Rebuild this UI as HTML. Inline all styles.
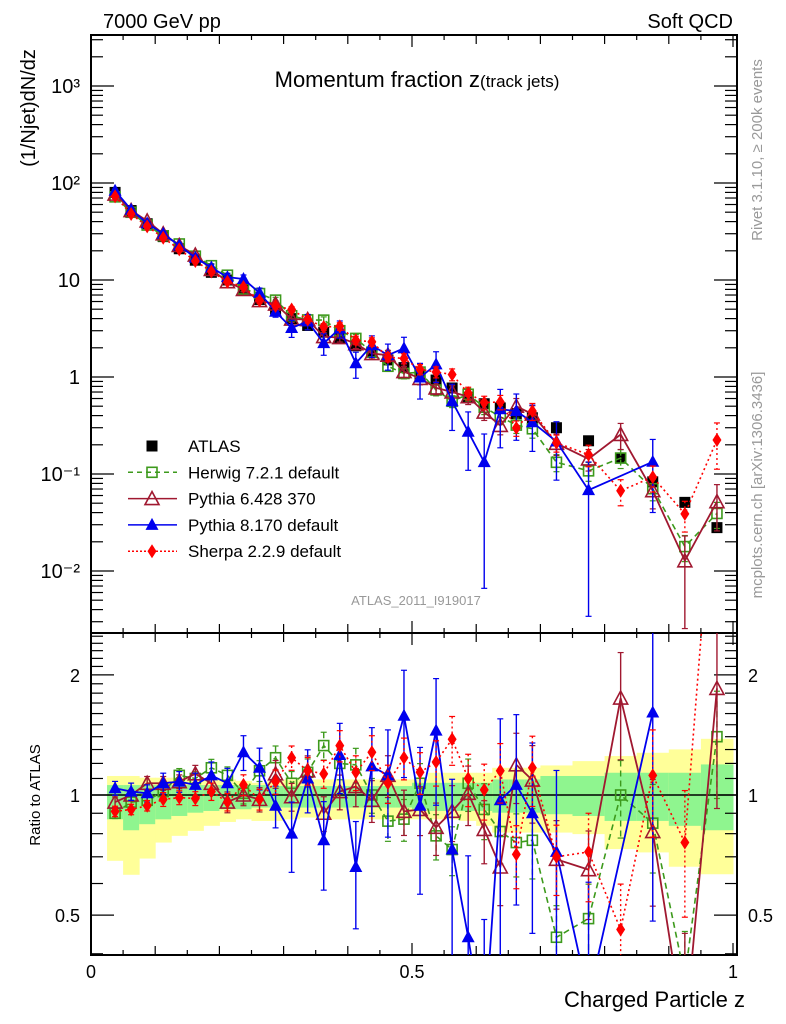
<!DOCTYPE html>
<html><head><meta charset="utf-8"><style>
html,body{margin:0;padding:0;background:#fff;overflow:hidden;width:786px;height:1024px;}
svg{display:block;font-family:"Liberation Sans",sans-serif;}
</style></head><body>
<svg id="c" width="786" height="1024" viewBox="0 0 786 1024" xmlns="http://www.w3.org/2000/svg">
<defs>
<clipPath id="cm"><rect x="91" y="35" width="646" height="598"/></clipPath>
<clipPath id="cr"><rect x="91" y="633" width="646" height="322"/></clipPath>
</defs>
<g id="bands" clip-path="url(#cr)"></g>
<g id="axes"></g>
<g id="mainG" clip-path="url(#cm)"></g>
<g id="ratioG" clip-path="url(#cr)"></g>
<text x="103" y="28" font-size="20">7000 GeV pp</text>
<text x="733" y="28" font-size="20" text-anchor="end">Soft QCD</text>
<text x="417" y="87" font-size="22" text-anchor="middle">Momentum fraction z<tspan font-size="17">(track jets)</tspan></text>
<text transform="translate(35,108) rotate(-90)" font-size="20" text-anchor="middle">(1/Njet)dN/dz</text>
<text transform="translate(40,795) rotate(-90)" font-size="15" text-anchor="middle">Ratio to ATLAS</text>
<text transform="translate(762,150) rotate(-90)" font-size="15" fill="#999" text-anchor="middle">Rivet 3.1.10, ≥ 200k events</text>
<text transform="translate(762,485) rotate(-90)" font-size="15" fill="#999" text-anchor="middle">mcplots.cern.ch [arXiv:1306.3436]</text>
<text x="416" y="605" font-size="13" fill="#999" text-anchor="middle">ATLAS_2011_I919017</text>
<text x="745" y="1007" font-size="22" text-anchor="end">Charged Particle z</text>
<g id="legend"></g>
</svg>
<script>
const binCenters=[0.0375,0.0625,0.0875,0.1125,0.1375,0.1625,0.1875,0.2125,0.2375,0.2625,0.2875,0.3125,0.3375,0.3625,0.3875,0.4125,0.4375,0.4625,0.4875,0.5125,0.5375,0.5625,0.5875,0.6125,0.6375,0.6625,0.6875,0.725,0.775,0.825,0.875,0.925,0.975];
const binWidths=[0.025,0.025,0.025,0.025,0.025,0.025,0.025,0.025,0.025,0.025,0.025,0.025,0.025,0.025,0.025,0.025,0.025,0.025,0.025,0.025,0.025,0.025,0.025,0.025,0.025,0.025,0.025,0.05,0.05,0.05,0.05,0.05,0.05];
const atlas=[80,52,38,28,21,16,12,10,8,6.3,5.0,4.0,3.4,2.9,2.5,2.1,1.8,1.5,1.25,1.05,0.93,0.77,0.62,0.53,0.48,0.42,0.38,0.30,0.22,0.146,0.083,0.051,0.028];
const herwigRatio=[0.90,0.96,0.97,1.02,1.12,1.10,1.17,1.12,1.01,1.15,1.24,1.07,1.14,1.33,1.20,1.19,1.0,0.86,0.87,1.07,0.79,0.73,1.07,0.92,0.81,0.76,0.77,0.44,0.49,1.0,0.85,0.35,1.40];
const py6Ratio=[0.96,1.0,1.07,1.07,1.08,1.13,1.07,0.96,1.0,0.975,1.13,0.99,1.15,0.90,1.02,1.05,0.97,1.12,0.91,0.92,0.83,0.91,1.01,0.82,0.66,1.19,1.09,0.69,0.65,1.75,0.81,0.25,1.85];
const py8Ratio=[1.04,1.02,1.01,1.07,1.08,1.06,1.12,1.07,1.28,1.17,0.94,0.80,1.10,0.77,1.26,0.66,1.18,1.12,1.58,0.94,1.45,0.73,0.44,0.25,0.97,1.06,0.90,0.72,0.31,null,1.61,null,null];
const sherpaRatio=[0.91,0.92,0.94,0.975,0.985,0.98,1.02,0.96,1.06,0.975,1.08,1.24,1.15,1.13,1.33,1.14,1.28,1.07,1.24,1.14,1.21,1.38,1.10,1.03,1.15,0.71,1.17,0.70,0.72,0.46,1.12,0.76,8.0];
const herwigErr=[0.03,0.03,0.03,0.04,0.04,0.04,0.05,0.05,0.06,0.06,0.07,0.07,0.08,0.08,0.09,0.1,0.1,0.11,0.12,0.12,0.13,0.14,0.15,0.16,0.17,0.18,0.2,0.2,0.22,0.22,0.25,0.3,0.3];
const py6Err=[0.03,0.03,0.04,0.04,0.04,0.05,0.05,0.06,0.06,0.07,0.08,0.08,0.09,0.1,0.1,0.11,0.12,0.12,0.13,0.14,0.15,0.16,0.17,0.18,0.2,0.2,0.22,0.25,0.25,0.3,0.35,0.8,0.5];
const py8Err=[0.04,0.05,0.05,0.06,0.06,0.07,0.08,0.09,0.1,0.12,0.12,0.2,0.18,0.25,0.2,0.3,0.25,0.3,0.3,0.4,0.35,0.5,0.6,0.95,0.6,0.5,0.5,0.6,0.95,0,0.7,0,0];
const sherpaErr=[0.03,0.03,0.03,0.04,0.04,0.04,0.05,0.05,0.06,0.06,0.07,0.07,0.08,0.08,0.09,0.1,0.1,0.11,0.12,0.12,0.13,0.14,0.15,0.16,0.17,0.18,0.2,0.2,0.25,0.3,0.3,0.35,0.5];
const yellowHi=[1.116,1.116,1.105,1.105,1.105,1.094,1.094,1.094,1.085,1.073,1.085,1.094,1.094,1.094,1.094,1.094,1.094,1.094,1.094,1.094,1.137,1.137,1.137,1.137,1.170,1.170,1.170,1.186,1.216,1.252,1.276,1.301,1.383];
const yellowLo=[0.684,0.631,0.693,0.760,0.790,0.813,0.837,0.856,0.869,0.861,0.861,0.869,0.878,0.869,0.869,0.869,0.869,0.869,0.869,0.869,0.869,0.869,0.861,0.837,0.805,0.805,0.805,0.805,0.798,0.732,0.718,0.661,0.633];
const greenHi=[1.059,1.059,1.059,1.059,1.059,1.059,1.059,1.059,1.059,1.059,1.053,1.053,1.053,1.053,1.053,1.053,1.053,1.053,1.053,1.073,1.073,1.073,1.073,1.073,1.094,1.094,1.094,1.116,1.116,1.137,1.137,1.137,1.193];
const greenLo=[0.869,0.816,0.845,0.869,0.886,0.903,0.912,0.921,0.921,0.930,0.930,0.930,0.930,0.930,0.930,0.930,0.930,0.930,0.930,0.921,0.912,0.912,0.912,0.912,0.903,0.903,0.903,0.895,0.886,0.861,0.861,0.837,0.816];
const mainTicks=["10⁻²","10⁻¹","1","10","10²","10³"];
const ratioTicks=[0.5,1,2];
const xTicks=[0,0.5,1];

const NS="http://www.w3.org/2000/svg";
const X0=91,XW=642,XR=737;
const MT=35,MB=633,RB=955;
function xS(v){return X0+v*XW;}
function yM(v){return 377-97*Math.log10(v);}
function yR(v){return 795-399*Math.log10(v);}
function mk(tag,attrs,parent){const e=document.createElementNS(NS,tag);for(const k in attrs)e.setAttribute(k,attrs[k]);parent.appendChild(e);return e;}
const axes=document.getElementById('axes');
const bands=document.getElementById('bands');
const mainG=document.getElementById('mainG');
const ratioG=document.getElementById('ratioG');
const legend=document.getElementById('legend');

binCenters.forEach((c,i)=>{
  const x1=xS(c-binWidths[i]/2),x2=xS(c+binWidths[i]/2);
  const y=mk('rect',{x:x1,y:yR(yellowHi[i]),width:x2-x1+0.5,height:yR(yellowLo[i])-yR(yellowHi[i]),fill:'#ffff99'},bands);
  
  
  const g=mk('rect',{x:x1,y:yR(greenHi[i]),width:x2-x1+0.5,height:yR(greenLo[i])-yR(greenHi[i]),fill:'#8ff58f'},bands);
  
  
});

const f1=mk('rect',{x:X0,y:MT,width:XR-X0,height:MB-MT,fill:'none',stroke:'#000','stroke-width':2},axes);


const f2=mk('rect',{x:X0,y:MB,width:XR-X0,height:RB-MB,fill:'none',stroke:'#000','stroke-width':2},axes);


const l1=mk('line',{x1:X0,x2:XR,y1:yR(1),y2:yR(1),stroke:'#000','stroke-width':1.5},axes);



for(let k=0;k<=20;k++){
  const v=k*0.05,x=xS(v);
  const len=(k%10===0)?12:(k%2===0?9:5);
  [MT,MB].forEach(yb=>{mk('line',{x1:x,x2:x,y1:yb,y2:yb+len,stroke:'#000','stroke-width':1.2},axes);});
  [MB,RB].forEach(yb=>{mk('line',{x1:x,x2:x,y1:yb,y2:yb-len,stroke:'#000','stroke-width':1.2},axes);});
}
xTicks.forEach(v=>{
  const t=mk('text',{x:xS(v),y:978,'font-size':18,'text-anchor':'middle'},axes);
  t.textContent=String(v);
  
  
});
for(let d=-3;d<=3;d++){
  for(let m=1;m<10;m++){
    const v=m*Math.pow(10,d),y=yM(v);
    if(y<MT||y>MB)continue;
    const len=m===1?23:12;
    mk('line',{x1:X0,x2:X0+len,y1:y,y2:y,stroke:'#000','stroke-width':1.2},axes);
    mk('line',{x1:XR,x2:XR-len,y1:y,y2:y,stroke:'#000','stroke-width':1.2},axes);
  }
}
mainTicks.forEach((s,i)=>{
  const t=mk('text',{x:80,y:yM(Math.pow(10,i-2))+7,'font-size':20,'text-anchor':'end'},axes);
  t.textContent=s;
  
  
});
for(let k=4;k<=25;k++){
  const v=k/10,y=yR(v);
  if(y<MB||y>RB)continue;
  const major=(k===5||k===10||k===20);
  const len=major?23:12;
  mk('line',{x1:X0,x2:X0+len,y1:y,y2:y,stroke:'#000','stroke-width':1.2},axes);
  mk('line',{x1:XR,x2:XR-len,y1:y,y2:y,stroke:'#000','stroke-width':1.2},axes);
}
ratioTicks.forEach(v=>{
  const t=mk('text',{x:80,y:yR(v)+7,'font-size':18,'text-anchor':'end'},axes);
  t.textContent=String(v);
  
  
  const t2=mk('text',{x:748,y:yR(v)+7,'font-size':18},axes);
  t2.textContent=String(v);
  
  
});

function marker(type,x,y,color,parent){
  let e;
  if(type==='sq') e=mk('rect',{x:x-5,y:y-5,width:10,height:10,fill:'none',stroke:color,'stroke-width':1.6},parent);
  else if(type==='fsq') e=mk('rect',{x:x-5.5,y:y-5.5,width:11,height:11,fill:color},parent);
  else if(type==='otri') e=mk('polygon',{points:`${x},${y-7} ${x-7},${y+6} ${x+7},${y+6}`,fill:'none',stroke:color,'stroke-width':1.6},parent);
  else if(type==='ftri') e=mk('polygon',{points:`${x},${y-7} ${x-6.5},${y+5} ${x+6.5},${y+5}`,fill:color},parent);
  else e=mk('polygon',{points:`${x},${y-7} ${x-4.5},${y} ${x},${y+7} ${x+4.5},${y}`,fill:color},parent);
  return e;
}
const series=[
 {name:'herwig',ratio:herwigRatio,err:herwigErr,color:'#3d9a1c',dash:'6,4',mk:'sq',w:1.6},
 {name:'pythia6',ratio:py6Ratio,err:py6Err,color:'#a01830',dash:'',mk:'otri',w:1.8},
 {name:'pythia8',ratio:py8Ratio,err:py8Err,color:'#0000ee',dash:'',mk:'ftri',w:1.8},
 {name:'sherpa',ratio:sherpaRatio,err:sherpaErr,color:'#ff0000',dash:'2,3',mk:'dia',w:1.6}
];
binCenters.forEach((c,i)=>{
  const m=marker('fsq',xS(c),yM(atlas[i]),'#000',mainG);
  
  
});
series.forEach(s=>{
  ['main','ratio'].forEach(panel=>{
    const parent=panel==='main'?mainG:ratioG;
    const yf=panel==='main'?yM:yR;
    const pts=[];
    binCenters.forEach((c,i)=>{
      const r=s.ratio[i]; if(r===null)return;
      const v=panel==='main'?atlas[i]*r:r;
      const x=xS(c),y=yf(v);
      pts.push([x,y]);
      const e=s.err[i];
      if(e>0){
        const y1=yf(v*(1+e)),y2=yf(Math.max(v*(1-e),1e-6));
        const eb=mk('line',{x1:x,x2:x,y1:y1,y2:y2,stroke:s.color,'stroke-width':1.4,'stroke-dasharray':s.dash},parent);
        
        
        mk('line',{x1:x-3,x2:x+3,y1:y1,y2:y1,stroke:s.color,'stroke-width':1.2},parent);
        mk('line',{x1:x-3,x2:x+3,y1:y2,y2:y2,stroke:s.color,'stroke-width':1.2},parent);
      }
    });
    const pl=mk('polyline',{points:pts.map(p=>p.join(',')).join(' '),fill:'none',stroke:s.color,'stroke-width':s.w,'stroke-dasharray':s.dash},parent);
    
    
    pts.forEach(p=>{
      const m=marker(s.mk,p[0],p[1],s.color,parent);
      
      
    });
  });
});

const legItems=[
 {label:'ATLAS',mk:'fsq',color:'#000',dash:null},
 {label:'Herwig 7.2.1 default',mk:'sq',color:'#3d9a1c',dash:'5,4'},
 {label:'Pythia 6.428 370',mk:'otri',color:'#a01830',dash:''},
 {label:'Pythia 8.170 default',mk:'ftri',color:'#0000ee',dash:''},
 {label:'Sherpa 2.2.9 default',mk:'dia',color:'#ff0000',dash:'2,2'}
];
legItems.forEach((it,i)=>{
  const y=446+i*26.3;
  const g=mk('g',{},legend);
  
  
  if(it.dash!==null) mk('line',{x1:128,x2:177,y1:y,y2:y,stroke:it.color,'stroke-width':1.5,'stroke-dasharray':it.dash},g);
  marker(it.mk,152,y,it.color,g);
  const t=mk('text',{x:188,y:y+6,'font-size':17},g);
  t.textContent=it.label;
});
</script>
</body></html>
